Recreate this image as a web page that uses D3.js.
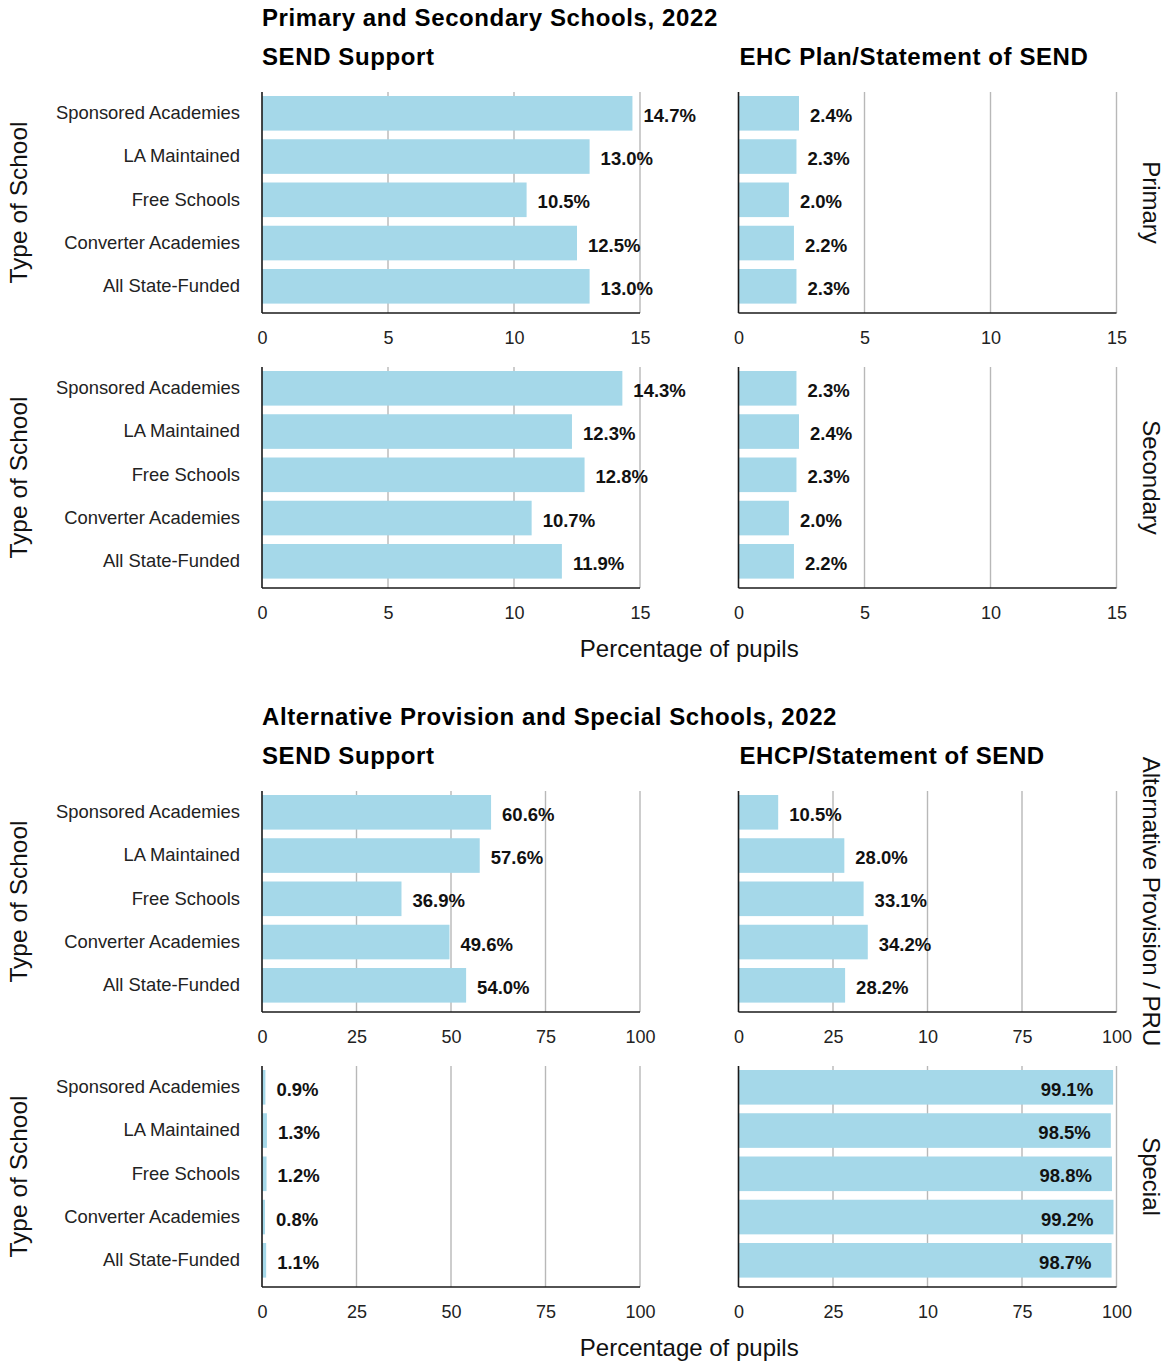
<!DOCTYPE html>
<html>
<head>
<meta charset="utf-8">
<script src="https://cdn.jsdelivr.net/npm/d3@7"></script>
<style>
  html, body { margin: 0; padding: 0; background: #fff; }
  svg text { font-family: "Liberation Sans", Arial, Helvetica, sans-serif; }
</style>
</head>
<body>
<svg id="chart" width="1168" height="1361"></svg>
<script>
// School types, top to bottom
const categories = ["Sponsored Academies", "LA Maintained", "Free Schools", "Converter Academies", "All State-Funded"];

// Primary and secondary schools, 2022 (% of pupils)
const primarySendSupport   = [14.7, 13.0, 10.5, 12.5, 13.0];
const primaryEhcPlan       = [2.4, 2.3, 2.0, 2.2, 2.3];
const secondarySendSupport = [14.3, 12.3, 12.8, 10.7, 11.9];
const secondaryEhcPlan     = [2.3, 2.4, 2.3, 2.0, 2.2];

// Alternative provision / PRU and special schools, 2022 (% of pupils)
const apSendSupport      = [60.6, 57.6, 36.9, 49.6, 54.0];
const apEhcp             = [10.5, 28.0, 33.1, 34.2, 28.2];
const specialSendSupport = [0.9, 1.3, 1.2, 0.8, 1.1];
const specialEhcp        = [99.1, 98.5, 98.8, 99.2, 98.7];

// Axis ticks and their printed labels
const ticksSmall       = [0, 5, 10, 15];
const tickLabelsSmall  = ["0", "5", "10", "15"];
const ticksLarge       = [0, 25, 50, 75, 100];
const tickLabelsLarge  = ["0", "25", "50", "75", "100"];
const tickLabelsEhcp   = ["0", "25", "10", "75", "100"];

// Text
const figureTitles = ["Primary and Secondary Schools, 2022", "Alternative Provision and Special Schools, 2022"];
const columnTitles = [["SEND Support", "EHC Plan/Statement of SEND"], ["SEND Support", "EHCP/Statement of SEND"]];
const rowTitles    = [["Primary", "Secondary"], ["Alternative Provision / PRU", "Special"]];
const yAxisTitle   = "Type of School";
const xAxisTitle   = "Percentage of pupils";

const svg = d3.select("#chart");

const BAR = "#a5d8e9";
const GRID = "#b8b8b8";
const INK = "#1a1a1a";
const panelW = 378;
const panelH = 221;
const colX = [262, 738.5];
const rightEdge = colX[1] + panelW;

// Each figure: 2 rows x 2 columns of panels
const figures = [
  {
    yOff: 0,
    domain: [0, 15],
    rows: [
      { top: 92,  series: [primarySendSupport, primaryEhcPlan], labels: [tickLabelsSmall, tickLabelsSmall] },
      { top: 367, series: [secondarySendSupport, secondaryEhcPlan], labels: [tickLabelsSmall, tickLabelsSmall] }
    ],
    ticks: ticksSmall
  },
  {
    yOff: 699,
    domain: [0, 100],
    rows: [
      { top: 791,  series: [apSendSupport, apEhcp], labels: [tickLabelsLarge, tickLabelsEhcp] },
      { top: 1066, series: [specialSendSupport, specialEhcp], labels: [tickLabelsLarge, tickLabelsEhcp] }
    ],
    ticks: ticksLarge
  }
];

figures.forEach((fig, fi) => {
  const g = svg.append("g");

  // figure title
  g.append("text")
    .attr("x", colX[0]).attr("y", 26 + fig.yOff)
    .attr("font-size", 24).attr("font-weight", "bold").attr("fill", "#000")
    .attr("letter-spacing", 0.6)
    .text(figureTitles[fi]);

  // column titles
  columnTitles[fi].forEach((t, ci) => {
    g.append("text")
      .attr("x", colX[ci] + (ci ? 1 : 0)).attr("y", 64.5 + fig.yOff)
      .attr("font-size", 24).attr("font-weight", "bold").attr("fill", "#000")
      .attr("letter-spacing", 0.6)
      .text(t);
  });

  fig.rows.forEach((row, ri) => {
    const y = d3.scaleBand()
      .domain(categories)
      .range([row.top + 4, row.top + 211.6])
      .paddingInner(0.2)
      .paddingOuter(0);

    // y-axis title
    g.append("text")
      .attr("transform", `translate(27,${row.top + panelH / 2}) rotate(-90)`)
      .attr("text-anchor", "middle")
      .attr("font-size", 24.5).attr("fill", "#111")
      .text(yAxisTitle);

    // category labels
    const yAxis = d3.axisLeft(y).tickSize(0).tickPadding(0);
    const ya = g.append("g").attr("transform", `translate(240,0)`).call(yAxis);
    ya.select(".domain").remove();
    ya.selectAll("text")
      .attr("font-size", 18.4).attr("fill", "#222")
      .attr("font-family", "'Liberation Sans', Arial, sans-serif");

    // row facet label on the right
    g.append("text")
      .attr("transform", `translate(1143,${row.top + panelH / 2}) rotate(90)`)
      .attr("text-anchor", "middle")
      .attr("font-size", 24).attr("fill", "#111")
      .text(rowTitles[fi][ri]);

    row.series.forEach((values, ci) => {
      const x0 = colX[ci];
      const x = d3.scaleLinear().domain(fig.domain).range([x0, x0 + panelW]);
      const p = g.append("g");
      const axisY = row.top + panelH;
      const rows = values.map((v, i) => ({ v, c: categories[i], inside: x(v) + 70 > rightEdge }));

      // vertical gridlines
      p.selectAll("line.grid")
        .data(fig.ticks.filter(t => t > 0))
        .join("line")
        .attr("class", "grid")
        .attr("x1", d => x(d)).attr("x2", d => x(d))
        .attr("y1", row.top).attr("y2", axisY)
        .attr("stroke", GRID).attr("stroke-width", 1.4);

      // bars
      p.selectAll("rect.bar")
        .data(rows)
        .join("rect")
        .attr("class", "bar")
        .attr("x", x(0))
        .attr("y", d => y(d.c))
        .attr("width", d => x(d.v) - x(0))
        .attr("height", y.bandwidth())
        .attr("fill", BAR);

      // value labels
      p.selectAll("text.val")
        .data(rows)
        .join("text")
        .attr("class", "val")
        .attr("x", d => d.inside ? x(d.v) - 20 : x(d.v) + 11)
        .attr("y", d => y(d.c) + y.bandwidth() / 2)
        .attr("dy", "0.46em")
        .attr("text-anchor", d => d.inside ? "end" : "start")
        .attr("font-size", 18.5).attr("font-weight", "bold").attr("fill", "#111")
        .text(d => d.v.toFixed(1) + "%");

      // x axis with printed tick labels
      const labels = row.labels[ci];
      const xAxis = d3.axisBottom(x)
        .tickValues(fig.ticks)
        .tickSize(0)
        .tickPadding(18)
        .tickFormat((d, i) => labels[i]);
      const xa = p.append("g").attr("transform", `translate(0,${axisY})`).call(xAxis);
      xa.select(".domain").remove();
      xa.selectAll("text")
        .attr("font-size", 18).attr("fill", "#222")
        .attr("font-family", "'Liberation Sans', Arial, sans-serif");

      // axis lines
      p.append("line")
        .attr("x1", x0).attr("x2", x0 + panelW)
        .attr("y1", axisY).attr("y2", axisY)
        .attr("stroke", INK).attr("stroke-width", 1.6);
      p.append("line")
        .attr("x1", x0).attr("x2", x0)
        .attr("y1", row.top).attr("y2", axisY)
        .attr("stroke", INK).attr("stroke-width", 1.6);
    });
  });

  // x-axis title
  g.append("text")
    .attr("x", (colX[0] + colX[1] + panelW) / 2).attr("y", 657 + fig.yOff)
    .attr("text-anchor", "middle")
    .attr("font-size", 24).attr("fill", "#111")
    .text(xAxisTitle);
});
</script>
</body>
</html>
